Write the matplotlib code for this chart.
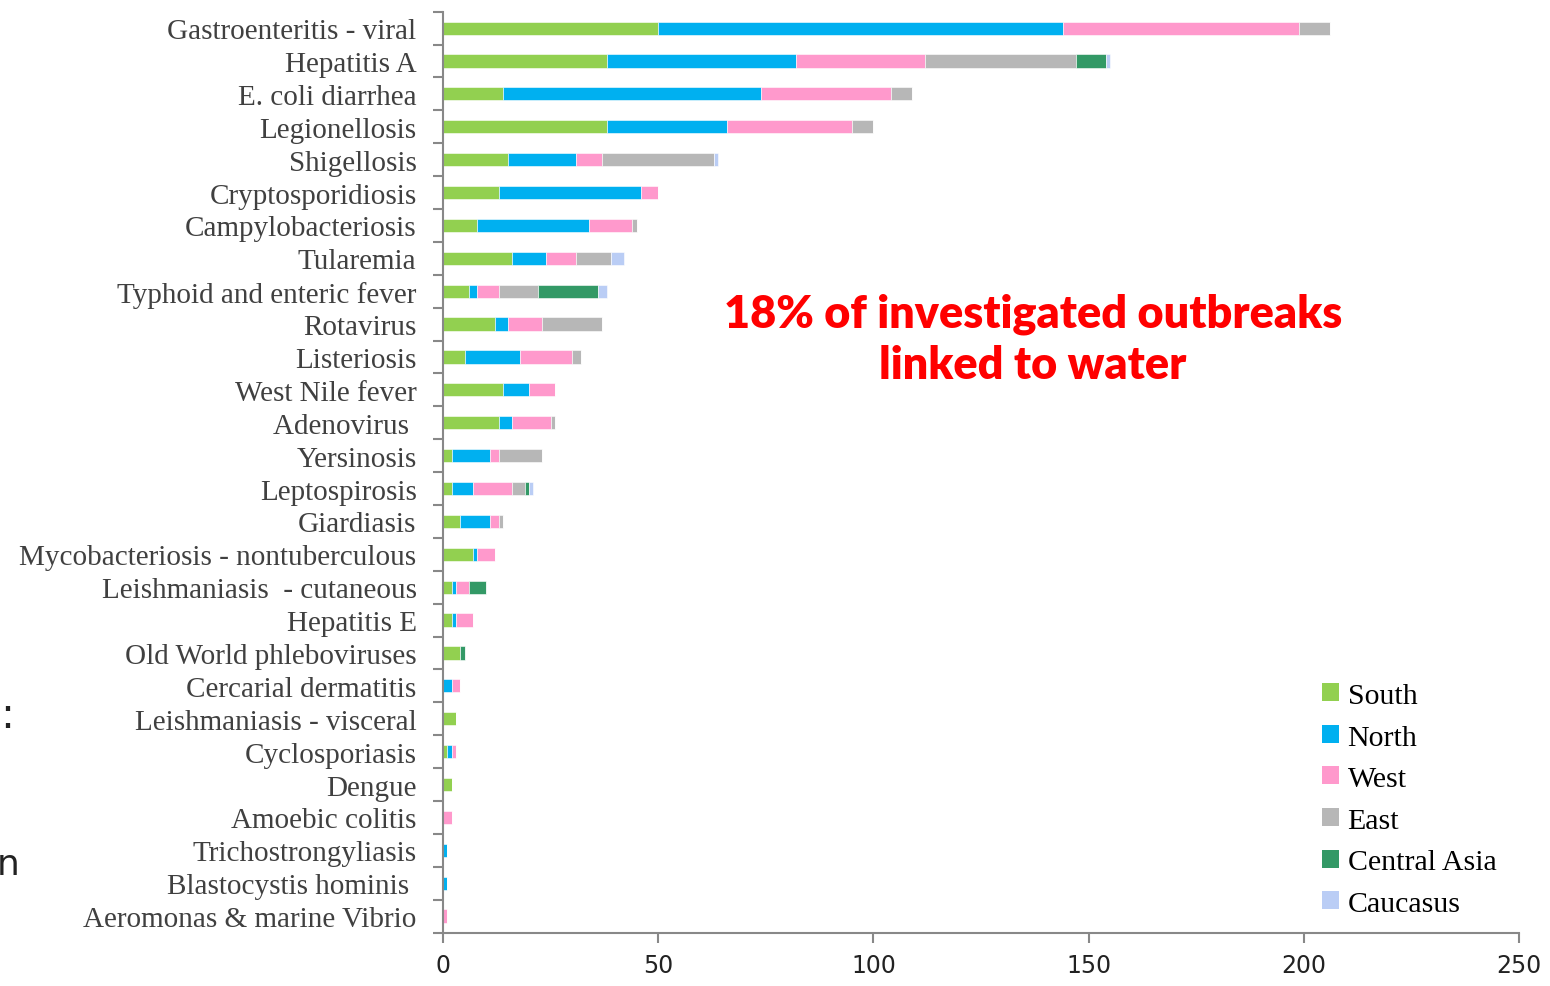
import numpy as np
import matplotlib
matplotlib.use("Agg")
import matplotlib.pyplot as plt
from matplotlib.patches import Patch

diseases = [
    "Gastroenteritis - viral", "Hepatitis A", "E. coli diarrhea", "Legionellosis",
    "Shigellosis", "Cryptosporidiosis", "Campylobacteriosis", "Tularemia",
    "Typhoid and enteric fever", "Rotavirus", "Listeriosis", "West Nile fever",
    "Adenovirus ", "Yersinosis", "Leptospirosis", "Giardiasis",
    "Mycobacteriosis - nontuberculous", "Leishmaniasis  - cutaneous", "Hepatitis E",
    "Old World phleboviruses", "Cercarial dermatitis", "Leishmaniasis - visceral",
    "Cyclosporiasis", "Dengue", "Amoebic colitis", "Trichostrongyliasis",
    "Blastocystis hominis ", "Aeromonas & marine Vibrio",
]

regions = ["South", "North", "West", "East", "Central Asia", "Caucasus"]
colors = ["#92D050", "#00B0F0", "#FF99CC", "#B7B7B7", "#339966", "#BACDF5"]

south = [50, 38, 14, 38, 15, 13, 8, 16, 6, 12, 5, 14, 13, 2, 2, 4, 7, 2, 2, 4, 0, 3, 1, 2, 0, 0, 0, 0]
north = [94, 44, 60, 28, 16, 33, 26, 8, 2, 3, 13, 6, 3, 9, 5, 7, 1, 1, 1, 0, 2, 0, 1, 0, 0, 1, 1, 0]
west = [55, 30, 30, 29, 6, 4, 10, 7, 5, 8, 12, 6, 9, 2, 9, 2, 4, 3, 4, 0, 2, 0, 1, 0, 2, 0, 0, 1]
east = [7, 35, 5, 5, 26, 0, 1, 8, 9, 14, 2, 0, 1, 10, 3, 1, 0, 0, 0, 0, 0, 0, 0, 0, 0, 0, 0, 0]
central_asia = [0, 7, 0, 0, 0, 0, 0, 0, 14, 0, 0, 0, 0, 0, 1, 0, 0, 4, 0, 1, 0, 0, 0, 0, 0, 0, 0, 0]
caucasus = [0, 1, 0, 0, 1, 0, 0, 3, 2, 0, 0, 0, 0, 0, 1, 0, 0, 0, 0, 0, 0, 0, 0, 0, 0, 0, 0, 0]

series = [south, north, west, east, central_asia, caucasus]

fig = plt.figure(figsize=(15.5, 9.87), dpi=100)
ax = fig.add_axes([0.2858, 0.0542, 0.6942, 0.933])

y = np.arange(len(diseases))
left = np.zeros(len(diseases))
for vals, col, name in zip(series, colors, regions):
    vals = np.array(vals, dtype=float)
    ax.barh(y, vals, left=left, height=0.4, color=col, label=name,
            edgecolor="white", linewidth=0.4)
    left += vals

ax.set_xlim(0, 250)
ax.set_ylim(len(diseases) - 0.5, -0.5)
ax.set_xticks([0, 50, 100, 150, 200, 250])
ax.set_yticks(y)
ax.set_yticklabels(diseases, fontfamily="Liberation Serif", fontsize=21, color="#404040")
ax.set_yticks(np.arange(-0.5, len(diseases), 1), minor=True)
ax.tick_params(axis="y", which="major", length=0, pad=19)
ax.tick_params(axis="y", which="minor", length=7, width=1.5, color="#888888")
ax.tick_params(axis="x", length=7, width=1.5, color="#888888", labelsize=17, pad=8)
for lab in ax.get_xticklabels():
    lab.set_fontfamily("DejaVu Sans")
    lab.set_color("#222222")

for s in ["top", "right"]:
    ax.spines[s].set_visible(False)
for s in ["left", "bottom"]:
    ax.spines[s].set_color("#888888")
    ax.spines[s].set_linewidth(1.5)

# callout
ax.text(0.548, 0.645, "18% of investigated outbreaks\nlinked to water",
        transform=ax.transAxes, ha="center", va="center", color="#FF0000",
        fontsize=32.4, fontweight="heavy", fontfamily="Lato", linespacing=1.3)

handles = [Patch(facecolor=c, label=r) for c, r in zip(colors, regions)]
fig.legend(handles=handles, loc="upper left", bbox_to_anchor=(0.853, 0.307),
           frameon=False, prop={"family": "Liberation Serif", "size": 21.5},
           borderpad=0, borderaxespad=0,
           handlelength=0.55, handleheight=0.55, handletextpad=0.3, labelspacing=0.52)

fig.text(0.0, 0.262, ":", fontsize=30, fontfamily="DejaVu Sans", color="#222222")
fig.text(-0.002, 0.113, "n", fontsize=26, fontfamily="DejaVu Sans", color="#222222")

fig.savefig("out.png", dpi=100)
